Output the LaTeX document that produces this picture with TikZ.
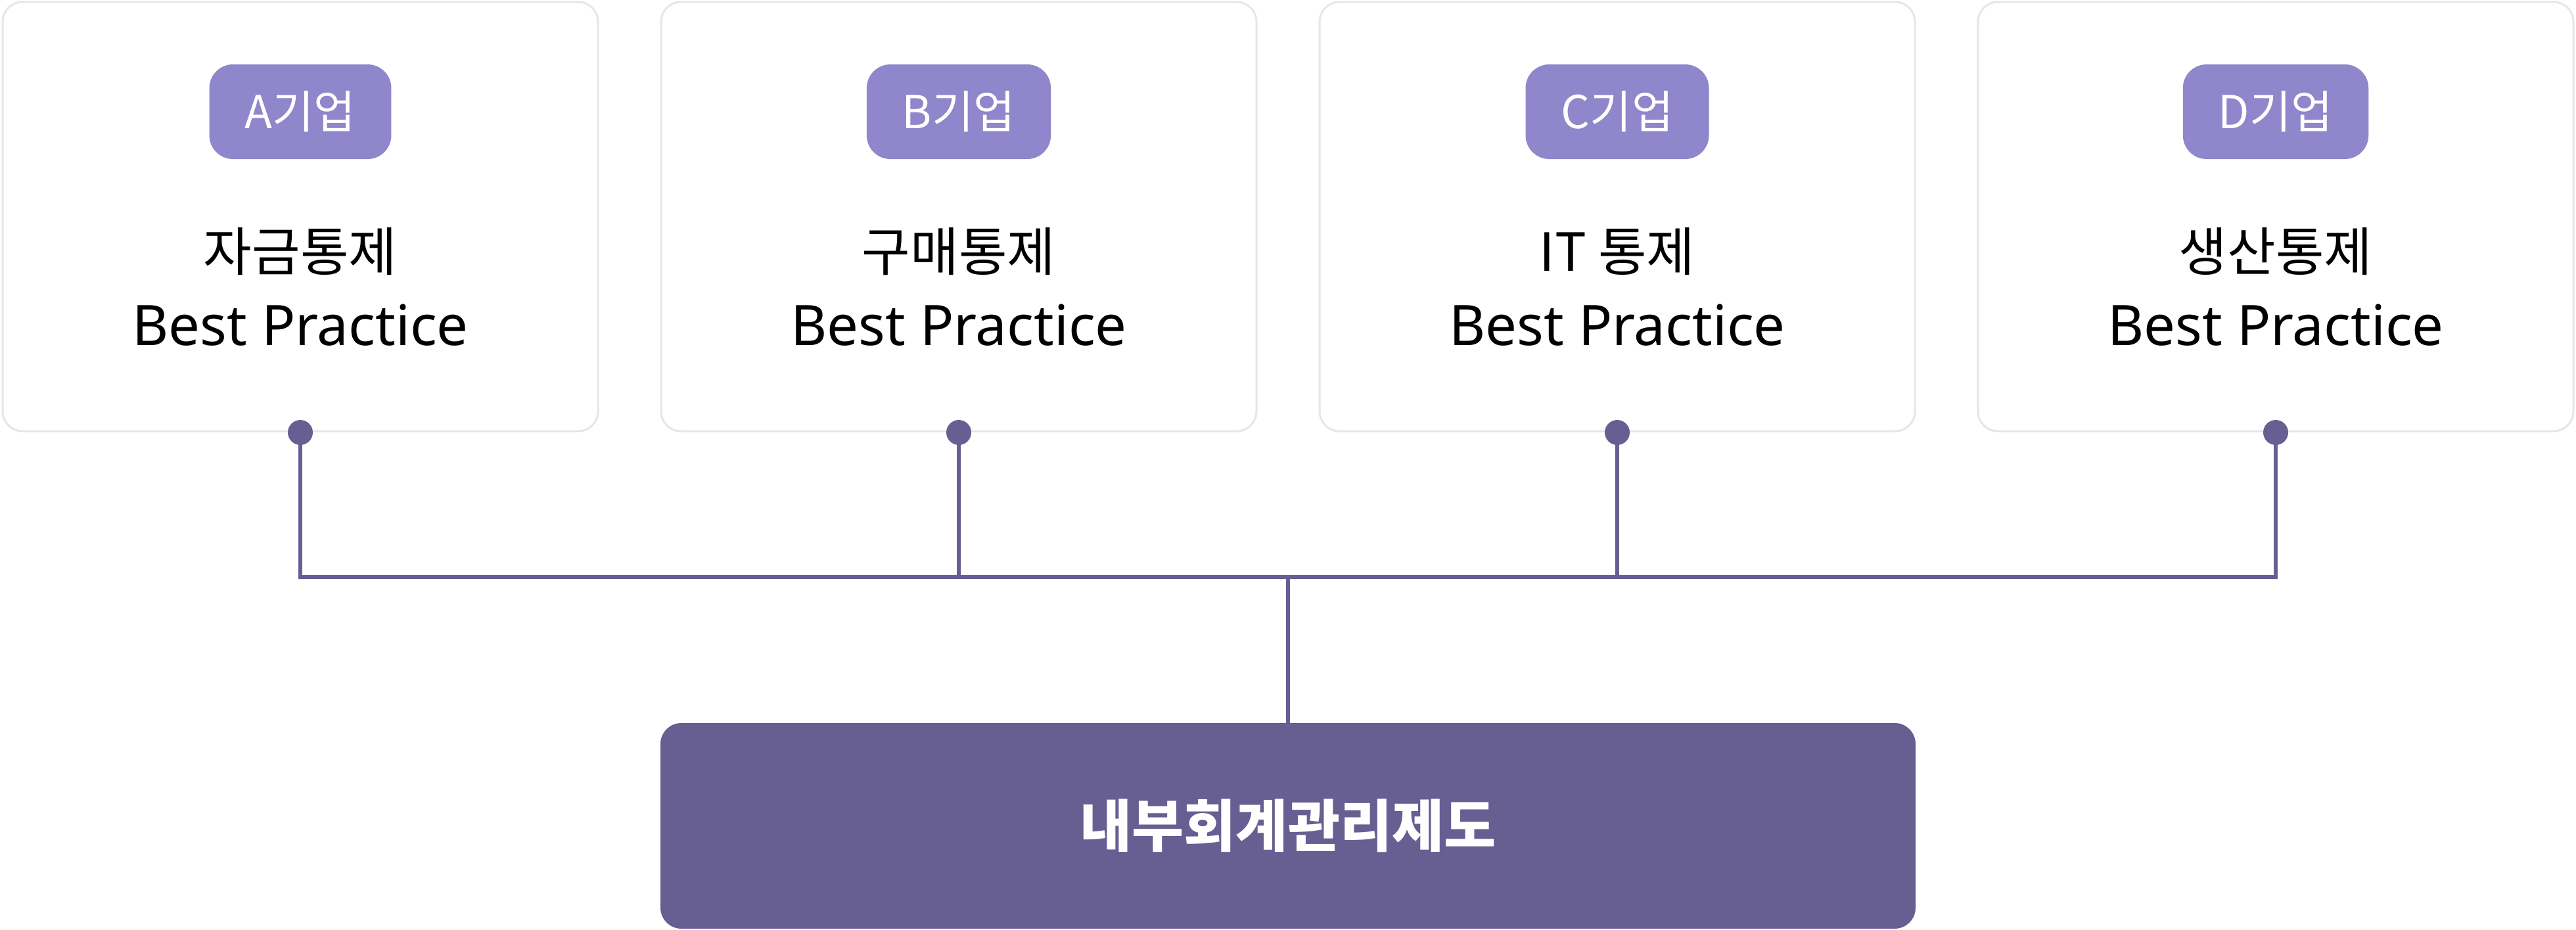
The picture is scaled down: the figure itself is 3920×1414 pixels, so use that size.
\documentclass[tikz,border=0pt]{standalone}
\usepackage{fontspec}
\setmainfont{Noto Sans CJK KR}
\newfontfamily\latinfont{Noto Sans}
\definecolor{cardline}{HTML}{E6E6EA}
\definecolor{badge}{HTML}{8F86CB}
\definecolor{deep}{HTML}{675F92}
\begin{document}
\begin{tikzpicture}[x=1pt,y=-1pt,
  card/.style={draw=cardline, line width=3pt, fill=white, rounded corners=30pt,
    minimum width=906pt, minimum height=653pt, inner sep=0pt},
  badgebox/.style={fill=badge, rounded corners=36pt, minimum width=272pt,
    minimum height=144pt, inner xsep=54pt, inner ysep=0pt, text=white,
    font=\fontsize{69}{69}\selectfont},
  titletxt/.style={anchor=base, inner sep=0pt, text=black, font=\fontsize{80}{80}\selectfont},
  latintxt/.style={anchor=base, inner sep=0pt, text=black, font=\latinfont\fontsize{85}{85}\selectfont},
  dotnode/.style={circle, fill=deep, minimum size=38pt, inner sep=0pt},
  conn/.style={draw=deep, line width=6pt},
  mainbox/.style={fill=deep, rounded corners=32pt, minimum width=1910pt,
    minimum height=313pt, inner sep=0pt, text=white,
    font=\fontsize{86}{86}\selectfont\bfseries}
]
\useasboundingbox (0,0) rectangle (3920,1414);

% cards
\node[card] (cA) at (457,329.5) {};
\node[card] (cB) at (1459,329.5) {};
\node[card] (cC) at (2461,329.5) {};
\node[card] (cD) at (3463,329.5) {};

% badges
\node[badgebox] (bA) at (457,170) {A기업};
\node[badgebox] (bB) at (1459,170) {B기업};
\node[badgebox] (bC) at (2461,170) {C기업};
\node[badgebox] (bD) at (3463,170) {D기업};

% titles
\node[titletxt] (tA1) at (457,412) {자금통제};
\node[latintxt] (tA2) at (457,525) {Best Practice};
\node[titletxt] (tB1) at (1459,412) {구매통제};
\node[latintxt] (tB2) at (1459,525) {Best Practice};
\node[titletxt] (tC1) at (2461,412) {IT 통제};
\node[latintxt] (tC2) at (2461,525) {Best Practice};
\node[titletxt] (tD1) at (3463,412) {생산통제};
\node[latintxt] (tD2) at (3463,525) {Best Practice};

% main box
\node[mainbox] (main) at (1960,1256.5) {내부회계관리제도};

% hub
\coordinate (hub) at (1960,878);

% connectors
\draw[conn] (457,658) -- (457,878) -- (3463,878) -- (3463,658);
\draw[conn] (1459,658) -- (1459,878);
\draw[conn] (2461,658) -- (2461,878);
\draw[conn] (hub) -- (main.north);

% dots
\node[dotnode] (dA) at (457,658) {};
\node[dotnode] (dB) at (1459,658) {};
\node[dotnode] (dC) at (2461,658) {};
\node[dotnode] (dD) at (3463,658) {};
\end{tikzpicture}
\end{document}
